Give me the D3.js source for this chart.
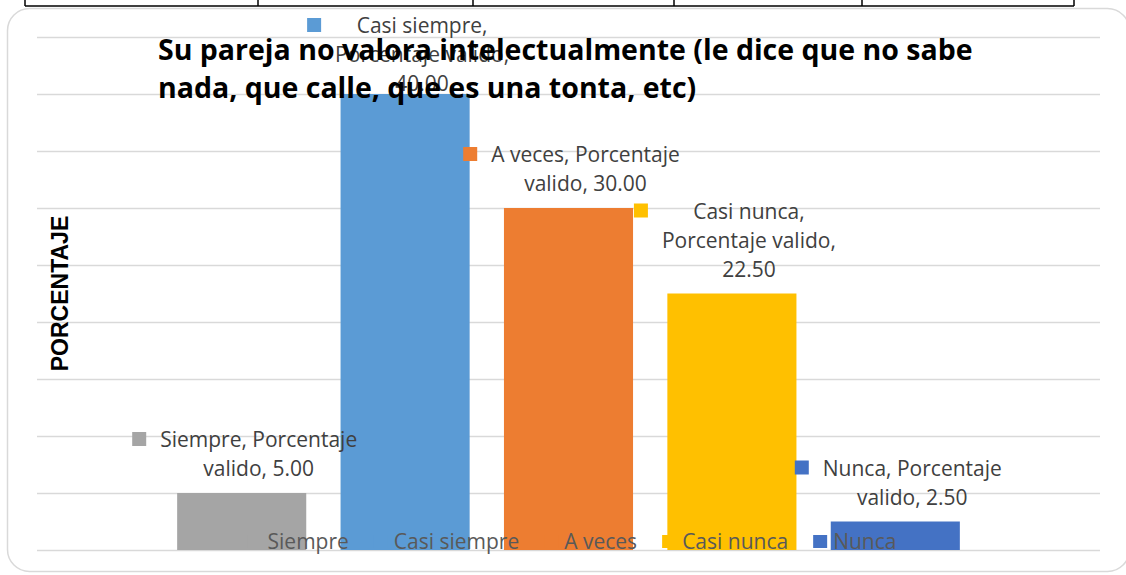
<!DOCTYPE html>
<html lang="es">
    <head>
        <meta charset="utf-8">
        <title>Su pareja no valora intelectualmente</title>
        <script type="text/javascript" src="https://d3js.org/d3.v7.min.js"></script>
        <style type="text/css">
            body { margin: 0; background: #fff; }
            svg { display: block; }
        </style>
    </head>
    <body>
        <script type="text/javascript">

            const width = 1126;
            const height = 575;

            // chart data
            const categories = ["Siempre", "Casi siempre", "A veces", "Casi nunca", "Nunca"];
            const values = [5.0, 40.0, 30.0, 22.5, 2.5];
            const colors = ["#A5A5A5", "#5B9BD5", "#ED7D31", "#FFC000", "#4472C4"];
            const labelLines = [
                ["Siempre, Porcentaje", "valido, 5.00"],
                ["Casi siempre,", "Porcentaje valido,", "40.00"],
                ["A veces, Porcentaje", "valido, 30.00"],
                ["Casi nunca,", "Porcentaje valido,", "22.50"],
                ["Nunca, Porcentaje", "valido, 2.50"]
            ];
            const titleLines = [
                "Su pareja no valora intelectualmente (le dice que no sabe",
                "nada, que calle, que es una tonta, etc)"
            ];
            const yTitle = "PORCENTAJE";
            const yMax = 45;
            // the document table edge above the chart
            const tableCols = [25, 258, 473, 674, 862, 1074];

            const font = "'Open Sans', Lato, sans-serif";

            const dataset = categories.map((c, i) => ({
                cat: c, value: values[i], color: colors[i], lines: labelLines[i]
            }));

            const xScale = d3.scaleBand()
                            .domain(categories)
                            .range([160, 977])
                            .paddingInner(0.21)
                            .paddingOuter(0.105);

            const yScale = d3.scaleLinear()
                            .domain([0, yMax])
                            .range([550, 37]);

            const svg = d3.select("body")
                        .append("svg")
                        .attr("width", width)
                        .attr("height", height);

            // table lines at the top of the page
            svg.append("line")
                .attr("x1", tableCols[0]).attr("x2", tableCols[tableCols.length - 1])
                .attr("y1", 6).attr("y2", 6)
                .attr("stroke", "#000").attr("stroke-width", 1.5);
            svg.selectAll(".tcol")
                .data(tableCols)
                .enter()
                .append("line")
                .attr("x1", d => d).attr("x2", d => d)
                .attr("y1", 0).attr("y2", 6)
                .attr("stroke", "#000").attr("stroke-width", 1.5);

            // chart frame
            svg.append("rect")
                .attr("x", 7.5).attr("y", 8.5)
                .attr("width", 1122).attr("height", 563)
                .attr("rx", 22)
                .attr("fill", "#fff")
                .attr("stroke", "#d9d9d9")
                .attr("stroke-width", 1.5);

            // gridlines
            svg.append("g")
                .selectAll("line")
                .data(yScale.ticks(9))
                .enter()
                .append("line")
                .attr("x1", 37).attr("x2", 1100)
                .attr("y1", d => Math.round(yScale(d)) + 0.5)
                .attr("y2", d => Math.round(yScale(d)) + 0.5)
                .attr("stroke", "#d9d9d9")
                .attr("stroke-width", 1.5);

            // bars
            svg.append("g")
                .selectAll("rect")
                .data(dataset)
                .enter()
                .append("rect")
                .attr("x", d => xScale(d.cat))
                .attr("y", d => yScale(d.value))
                .attr("width", xScale.bandwidth())
                .attr("height", d => yScale(0) - yScale(d.value))
                .attr("fill", d => d.color);

            // legend (sits on the axis line)
            const legend = svg.append("g");
            const items = legend.selectAll("g")
                .data(dataset)
                .enter()
                .append("g");
            items.append("rect")
                .attr("width", 14).attr("height", 13)
                .attr("y", 535)
                .attr("fill", d => d.color);
            items.append("text")
                .attr("y", 549)
                .attr("font-family", font)
                .attr("font-size", "21px")
                .attr("fill", "#595959")
                .text(d => d.cat);
            let widths = [];
            items.each(function () {
                widths.push(d3.select(this).select("text").node().getComputedTextLength());
            });
            const gap = 25;
            const total = d3.sum(widths) + widths.length * 20 + (widths.length - 1) * gap;
            let lx = 572 - total / 2;
            items.each(function (d, i) {
                const g = d3.select(this);
                g.select("rect").attr("x", lx);
                g.select("text").attr("x", lx + 20);
                lx += 20 + widths[i] + gap;
            });

            // data labels
            const lineH = 29;
            const labels = svg.append("g")
                .selectAll("g")
                .data(dataset)
                .enter()
                .append("g");
            labels.each(function (d) {
                const g = d3.select(this);
                const cx = xScale(d.cat) + xScale.bandwidth() / 2 + 17;
                let first = yScale(d.value) - 17 - (d.lines.length - 1) * lineH;
                first = Math.max(first, 33);
                const txt = g.append("text")
                    .attr("font-family", font)
                    .attr("font-size", "21px")
                    .attr("fill", "#404040")
                    .attr("text-anchor", "middle");
                txt.selectAll("tspan")
                    .data(d.lines)
                    .enter()
                    .append("tspan")
                    .attr("x", cx)
                    .attr("y", (l, j) => first + j * lineH)
                    .text(l => l);
                let maxW = 0;
                txt.selectAll("tspan").each(function () {
                    maxW = Math.max(maxW, this.getComputedTextLength());
                });
                g.insert("rect", "text")
                    .attr("x", cx - maxW / 2 - 14 - 14)
                    .attr("y", first - 15)
                    .attr("width", 14).attr("height", 14)
                    .attr("fill", d.color);
            });

            // title
            svg.append("text")
                .attr("font-family", font)
                .attr("font-weight", "bold")
                .attr("font-size", "28.5px")
                .attr("fill", "#000")
                .selectAll("tspan")
                .data(titleLines)
                .enter()
                .append("tspan")
                .attr("x", 158)
                .attr("y", (d, i) => 60 + i * 37.5)
                .text(d => d);

            // y axis title
            svg.append("text")
                .attr("transform", "translate(68,293.5) rotate(-90)")
                .attr("text-anchor", "middle")
                .attr("font-family", "'Liberation Sans', Arial, sans-serif")
                .attr("font-weight", "bold")
                .attr("font-size", "23px")
                .attr("fill", "#000")
                .text(yTitle);

        </script>
    </body>
</html>
